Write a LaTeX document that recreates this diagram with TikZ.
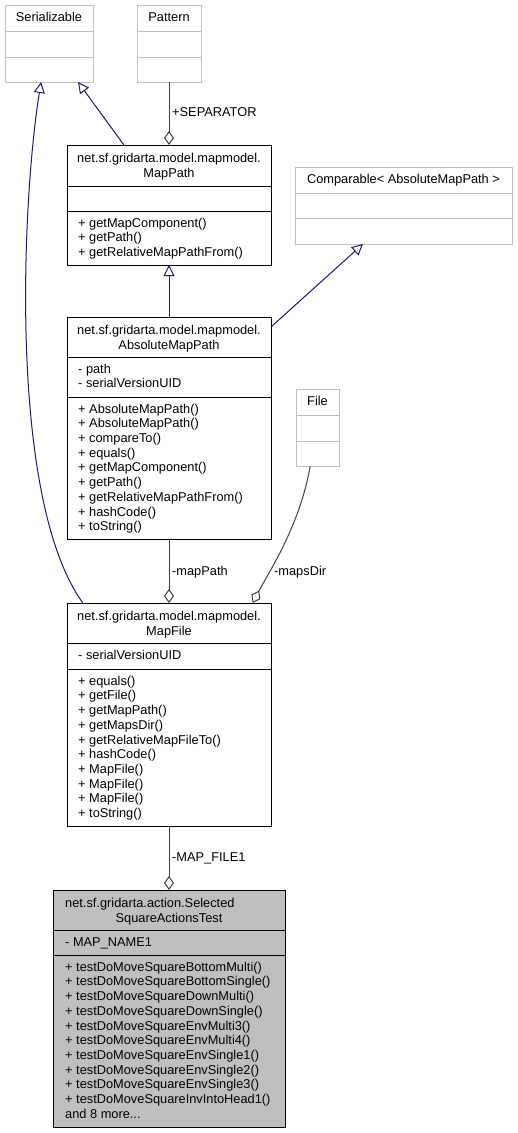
\documentclass[tikz,border=0pt]{standalone}
\usepackage{fontspec}
\setmainfont{Liberation Sans}
\usetikzlibrary{arrows.meta,calc}
\definecolor{genblue}{HTML}{191970}
\definecolor{agggrey}{HTML}{404040}
\definecolor{extgrey}{HTML}{BFBFBF}
\definecolor{testfill}{HTML}{BFBFBF}
\begin{document}
\begin{tikzpicture}[x=1pt,y=-1pt,
  box/.style={draw=black, line width=1pt, fill=white, anchor=north west, inner sep=0pt, outer sep=0pt},
  extbox/.style={box, draw=extgrey},
  sepline/.style={draw=black, line width=1pt},
  extsep/.style={draw=extgrey, line width=1pt},
  txt/.style={inner sep=0pt, anchor=north west, align=left, font=\fontsize{12.8}{14.7}\selectfont},
  ttl/.style={inner sep=0pt, anchor=north, align=center, font=\fontsize{12.8}{14.7}\selectfont},
  lbl/.style={inner sep=0pt, anchor=base west, font=\fontsize{12.8}{14.7}\selectfont},
  genline/.style={draw=genblue, line width=1pt, -{Triangle[open, length=11pt, width=11pt]}},
  aggline/.style={draw=agggrey, line width=1pt, -{Diamond[open, length=14pt, width=10pt]}}
]
\useasboundingbox (0,0) rectangle (517,1133);

% Serializable
\node[extbox, minimum width=88pt, minimum height=77pt] (ser) at (5,5) {};
\draw[extsep] ($(ser.north west)+(0,26)$) -- ($(ser.north east)+(0,26)$);
\draw[extsep] ($(ser.north west)+(0,52)$) -- ($(ser.north east)+(0,52)$);
\node[ttl] (serT) at (49,11.5) {\strut Serializable};

% Pattern
\node[extbox, minimum width=64pt, minimum height=77pt] (pat) at (137,5) {};
\draw[extsep] ($(pat.north west)+(0,26)$) -- ($(pat.north east)+(0,26)$);
\draw[extsep] ($(pat.north west)+(0,52)$) -- ($(pat.north east)+(0,52)$);
\node[ttl] (patT) at (169,11.5) {\strut Pattern};

% MapPath
\node[box, minimum width=204pt, minimum height=120pt] (mp) at (67,145) {};
\draw[sepline] ($(mp.north west)+(0,41)$) -- ($(mp.north east)+(0,41)$);
\draw[sepline] ($(mp.north west)+(0,66)$) -- ($(mp.north east)+(0,66)$);
\node[ttl] (mpT) at (169,152) {\strut net.sf.gridarta.model.mapmodel.\\MapPath};
\node[txt] (mpM) at (78,216.7) {\strut + getMapComponent()\\+ getPath()\\+ getRelativeMapPathFrom()};

% Comparable
\node[extbox, minimum width=217pt, minimum height=77pt] (cmp) at (295,167) {};
\draw[extsep] ($(cmp.north west)+(0,26)$) -- ($(cmp.north east)+(0,26)$);
\draw[extsep] ($(cmp.north west)+(0,51)$) -- ($(cmp.north east)+(0,51)$);
\node[ttl] (cmpT) at (403.5,173.5) {\strut Comparable< AbsoluteMapPath >};

% AbsoluteMapPath
\node[box, minimum width=204pt, minimum height=222pt] (amp) at (67,317) {};
\draw[sepline] ($(amp.north west)+(0,40)$) -- ($(amp.north east)+(0,40)$);
\draw[sepline] ($(amp.north west)+(0,80)$) -- ($(amp.north east)+(0,80)$);
\node[ttl] (ampT) at (169,324) {\strut net.sf.gridarta.model.mapmodel.\\AbsoluteMapPath};
\node[txt] (ampA) at (78,362.7) {\strut - path\\- serialVersionUID};
\node[txt] (ampM) at (78,402.7) {\strut + AbsoluteMapPath()\\+ AbsoluteMapPath()\\+ compareTo()\\+ equals()\\+ getMapComponent()\\+ getPath()\\+ getRelativeMapPathFrom()\\+ hashCode()\\+ toString()};

% File
\node[extbox, minimum width=43pt, minimum height=77pt] (file) at (296,389) {};
\draw[extsep] ($(file.north west)+(0,26)$) -- ($(file.north east)+(0,26)$);
\draw[extsep] ($(file.north west)+(0,52)$) -- ($(file.north east)+(0,52)$);
\node[ttl] (fileT) at (317.5,395.5) {\strut File};

% MapFile
\node[box, minimum width=204pt, minimum height=223pt] (mf) at (67,603) {};
\draw[sepline] ($(mf.north west)+(0,40)$) -- ($(mf.north east)+(0,40)$);
\draw[sepline] ($(mf.north west)+(0,66)$) -- ($(mf.north east)+(0,66)$);
\node[ttl] (mfT) at (169,610) {\strut net.sf.gridarta.model.mapmodel.\\MapFile};
\node[txt] (mfA) at (78,648.7) {\strut - serialVersionUID};
\node[txt] (mfM) at (78,674.7) {\strut + equals()\\+ getFile()\\+ getMapPath()\\+ getMapsDir()\\+ getRelativeMapFileTo()\\+ hashCode()\\+ MapFile()\\+ MapFile()\\+ MapFile()\\+ toString()};

% SelectedSquareActionsTest
\node[box, fill=testfill, minimum width=232pt, minimum height=237pt] (test) at (53,890) {};
\draw[sepline] ($(test.north west)+(0,40)$) -- ($(test.north east)+(0,40)$);
\draw[sepline] ($(test.north west)+(0,65)$) -- ($(test.north east)+(0,65)$);
\node[txt] (testT1) at (65,897) {\strut net.sf.gridarta.action.Selected};
\node[ttl] (testT2) at (169,911.7) {\strut SquareActionsTest};
\node[txt] (testA) at (65,935.7) {\strut - MAP\_NAME1};
\node[txt] (testM) at (65,960.7) {\strut + testDoMoveSquareBottomMulti()\\+ testDoMoveSquareBottomSingle()\\+ testDoMoveSquareDownMulti()\\+ testDoMoveSquareDownSingle()\\+ testDoMoveSquareEnvMulti3()\\+ testDoMoveSquareEnvMulti4()\\+ testDoMoveSquareEnvSingle1()\\+ testDoMoveSquareEnvSingle2()\\+ testDoMoveSquareEnvSingle3()\\+ testDoMoveSquareInvIntoHead1()\\and 8 more...};

% Connectors
\draw[genline] ($(mp.north west)!0.279!(mp.north east)$) -- ($(ser.south west)!0.83!(ser.south east)$);
\draw[genline] ($(mf.north west)!0.078!(mf.north east)$) .. controls (8,500) and (22,200) .. ($(ser.south west)!0.41!(ser.south east)$);
\draw[aggline] (pat.south) -- (mp.north);
\draw[genline] (amp.north) -- (mp.south);
\draw[genline] ($(amp.north east)+(0,10)$) -- ($(cmp.south west)!0.313!(cmp.south east)$);
\draw[aggline] (amp.south) -- (mf.north);
\draw[aggline] ($(file.south west)!0.33!(file.south east)$) .. controls (300,525) and (270,570) .. ($(mf.north west)!0.91!(mf.north east)$);
\draw[aggline] (mf.south) -- (test.north);

% Labels
\node[lbl] (lSep) at (172,116.5) {+SEPARATOR};
\node[lbl] (lMapPath) at (172,575.5) {-mapPath};
\node[lbl] (lMapsDir) at (274,575.5) {-mapsDir};
\node[lbl] (lMapFile1) at (172,861.5) {-MAP\_FILE1};
\end{tikzpicture}
\end{document}
